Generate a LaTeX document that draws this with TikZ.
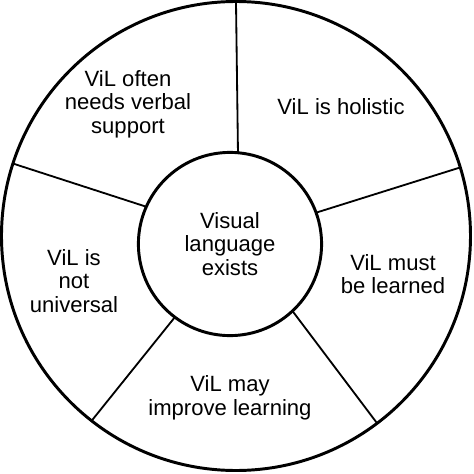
\documentclass[tikz,border=0pt]{standalone}
\usepackage{fontspec}
\setmainfont{Liberation Sans}
\usetikzlibrary{positioning}
\tikzset{
  rim/.style={draw,circle,line width=2.1pt,inner sep=0pt,outer sep=0pt},
  spoke/.style={line width=1.3pt},
  lbl/.style={font=\fontsize{15.7}{16.8}\selectfont,align=center,inner sep=1pt},
}

\begin{document}
\begin{tikzpicture}
\useasboundingbox (-5.9,-5.95) rectangle (5.95,5.9);
% wheel
\node[rim,minimum size=11.725cm] (outer) at (0,0) {};
\node[rim,lbl,minimum size=4.58cm] (hub) at (-0.15,-0.2) {Visual\\language\\exists};
\foreach \a/\b in {90/85.6,17.4/20.6,307.4/313.3,232.8/233.3,162.8/156.7}
  \draw[spoke] (outer.\a) -- (hub.\b);
% sectors
\node[lbl] (verbal) at (-2.7,3.3) {ViL often\\needs verbal\\support};
\node[lbl] (holistic) at (2.625,3.225) {ViL is holistic};
\node[lbl] (learned) at (3.925,-0.95) {ViL must\\be learned};
\node[lbl] (improve) at (-0.15,-4.05) {ViL may\\improve learning};
\node[lbl] (universal) at (-4.05,-1.125) {ViL is\\not\\universal};
\end{tikzpicture}
\end{document}
